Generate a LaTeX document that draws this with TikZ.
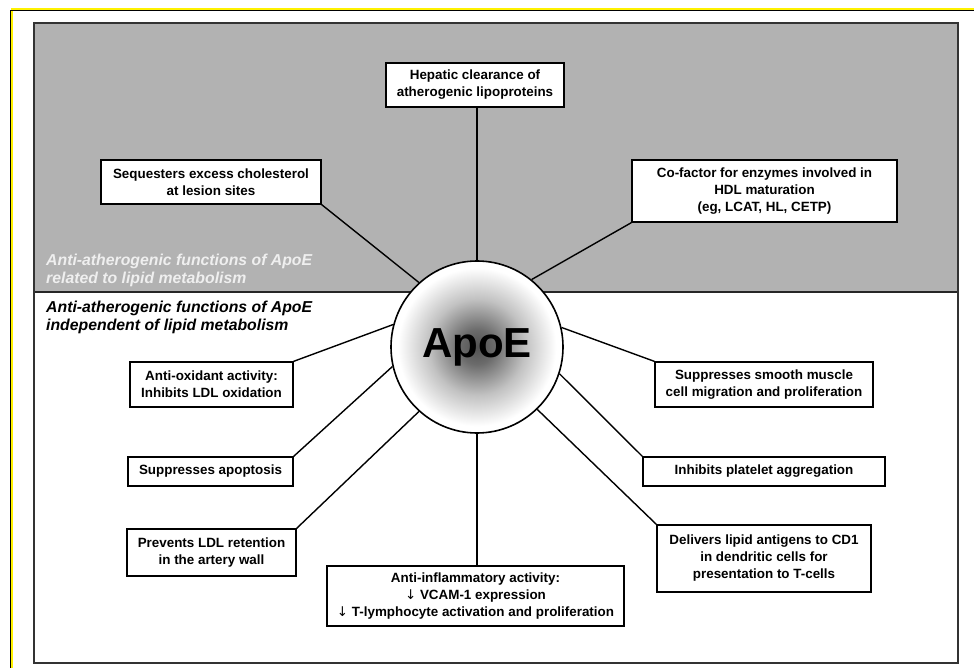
\documentclass[tikz,border=0pt]{standalone}
\usepackage{fontspec}
\setmainfont{Liberation Sans}
\newfontfamily\arrowfont{DejaVu Sans}
\definecolor{panelgray}{HTML}{B2B2B2}
\definecolor{framegray}{HTML}{333333}
\definecolor{labelwhite}{HTML}{EFEFEF}
\pgfdeclareradialshading{apoeshade}{\pgfpoint{0bp}{0bp}}{color(0bp)=(black!68); color(5bp)=(black!58); color(14bp)=(black!24); color(23bp)=(white); color(50bp)=(white)}
\tikzset{
  fbox/.style={draw, line width=1.3, fill=white, align=center, inner sep=0pt,
    font=\bfseries\fontsize{13.4}{17}\selectfont},
  conn/.style={line width=1.4, black},
  grouplabel/.style={anchor=west, align=left, inner sep=0pt,
    font=\bfseries\itshape\fontsize{15.8}{18}\selectfont}
}
\newcommand{\downarr}{{\arrowfont\mdseries ↓}}
\begin{document}
\begin{tikzpicture}[x=1pt,y=-1pt]
\useasboundingbox (0,0) rectangle (974,668);
% outer yellow border
\draw[yellow, line width=2.2] (11.6,668) -- (11.6,8.8) -- (974,8.8);
\draw[black, line width=0.7] (10.3,668) -- (10.3,10.4) -- (974,10.4);
% panels
\fill[white] (34,23) rectangle (958,663);
\fill[panelgray] (34,23) rectangle (958,292);
\draw[line width=1.5, black!85] (34,292) -- (958,292);
\draw[line width=2, framegray] (34,23) rectangle (958,663);
% group labels
\node[grouplabel, text=labelwhite] (lab1) at (46,270) {Anti-atherogenic functions of ApoE\\related to lipid metabolism};
\node[grouplabel, text=black] (lab2) at (46,317) {Anti-atherogenic functions of ApoE\\independent of lipid metabolism};
% centre
\node[circle, draw, line width=1.6, shade, shading=apoeshade, minimum size=172, inner sep=0pt,
  font=\bfseries\fontsize{42}{42}\selectfont] (apoe) at (477,347) {ApoE};
% boxes
\node[fbox, minimum width=178, minimum height=44] (hep) at (475,85) {Hepatic clearance of\\atherogenic lipoproteins};
\node[fbox, minimum width=220, minimum height=44] (seq) at (211,182) {Sequesters excess cholesterol\\at lesion sites};
\node[fbox, minimum width=265, minimum height=62] (cof) at (764.5,191) {Co-factor for enzymes involved in\\HDL maturation\\(eg, LCAT, HL, CETP)};
\node[fbox, minimum width=163, minimum height=45] (aox) at (211.5,384.5) {Anti-oxidant activity:\\Inhibits LDL oxidation};
\node[fbox, minimum width=165, minimum height=29] (apo) at (210.5,471.5) {Suppresses apoptosis};
\node[fbox, minimum width=169, minimum height=47] (ldl) at (211.5,552.5) {Prevents LDL retention\\in the artery wall};
\node[fbox, minimum width=297, minimum height=60] (inf) at (475.5,596) {Anti-inflammatory activity:\\\downarr\ VCAM-1 expression\\\downarr\ T-lymphocyte activation and proliferation};
\node[fbox, minimum width=218, minimum height=45] (smc) at (764,384.5) {Suppresses smooth muscle\\cell migration and proliferation};
\node[fbox, minimum width=242, minimum height=29] (plt) at (764,471.5) {Inhibits platelet aggregation};
\node[fbox, minimum width=214, minimum height=67] (cd1) at (764,558.5) {Delivers lipid antigens to CD1\\in dendritic cells for\\presentation to T-cells};
% connectors
\draw[conn] (apoe.north) -- (apoe.north |- hep.south);
\draw[conn] (seq.south east) -- (apoe.132);
\draw[conn] (cof.south west) -- (apoe.51);
\draw[conn] (aox.north east) -- (apoe.165);
\draw[conn] (apo.north east) -- (apoe.193);
\draw[conn] (ldl.north east) -- (apoe.228);
\draw[conn] (apoe.south) -- (apoe.south |- inf.north);
\draw[conn] (smc.north west) -- (apoe.13);
\draw[conn] (plt.north west) -- (apoe.342);
\draw[conn] (cd1.north west) -- (apoe.314);
\end{tikzpicture}
\end{document}
